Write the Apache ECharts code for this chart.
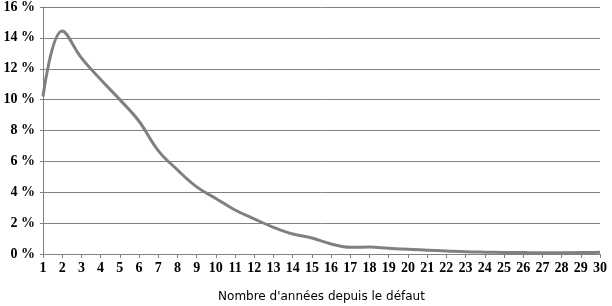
<!DOCTYPE html>
<html><head><meta charset="utf-8">
<script src="https://cdn.jsdelivr.net/npm/echarts@6/dist/echarts.min.js"></script>
<style>html,body{margin:0;padding:0;background:#fff}#c{width:612px;height:306px}</style>
</head><body><div id="c"></div>
<script>
const categories = ['1','2','3','4','5','6','7','8','9','10','11','12','13','14','15','16','17','18','19','20','21','22','23','24','25','26','27','28','29','30'];
const values = [10.2,14.45,12.7,11.3,10.0,8.6,6.7,5.45,4.35,3.6,2.85,2.27,1.73,1.3,1.04,0.65,0.43,0.45,0.37,0.3,0.25,0.2,0.15,0.12,0.1,0.09,0.08,0.08,0.09,0.12];
const yTicks = [0,2,4,6,8,10,12,14,16];
const xName = "Nombre d'années depuis le défaut";

const chart = echarts.init(document.getElementById('c'));
chart.setOption({
  animation: false,
  grid: {left: 43, right: 12, top: 7, bottom: 52, containLabel: false, outerBoundsMode: 'none'},
  xAxis: {
    type: 'category', data: categories, boundaryGap: false,
    name: xName, nameLocation: 'middle', nameGap: 37,
    nameTextStyle: {fontFamily: 'DejaVu Sans', fontSize: 12, color: '#000'},
    axisLine: {lineStyle: {color: '#808080', width: 1}},
    axisTick: {show: true, length: 4, lineStyle: {color: '#808080'}},
    axisLabel: {fontFamily: '"Liberation Serif", "Times New Roman", serif', fontWeight: 'bold', fontSize: 14, color: '#000', margin: 7, interval: 0},
    splitLine: {show: false}
  },
  yAxis: {
    type: 'value', min: yTicks[0], max: yTicks[yTicks.length-1], interval: 2,
    axisLine: {show: true, lineStyle: {color: '#808080', width: 1}},
    axisTick: {show: true, length: 3, lineStyle: {color: '#808080'}},
    axisLabel: {fontFamily: '"Liberation Serif", "Times New Roman", serif', fontWeight: 'bold', fontSize: 14, color: '#000', margin: 8, formatter: v => v + ' %'},
    splitLine: {show: true, lineStyle: {color: '#808080', width: 1}}
  },
  series: [{
    type: 'line', data: values, smooth: 0.4, symbol: 'none',
    lineStyle: {color: '#808080', width: 3}
  }]
});
</script></body></html>
